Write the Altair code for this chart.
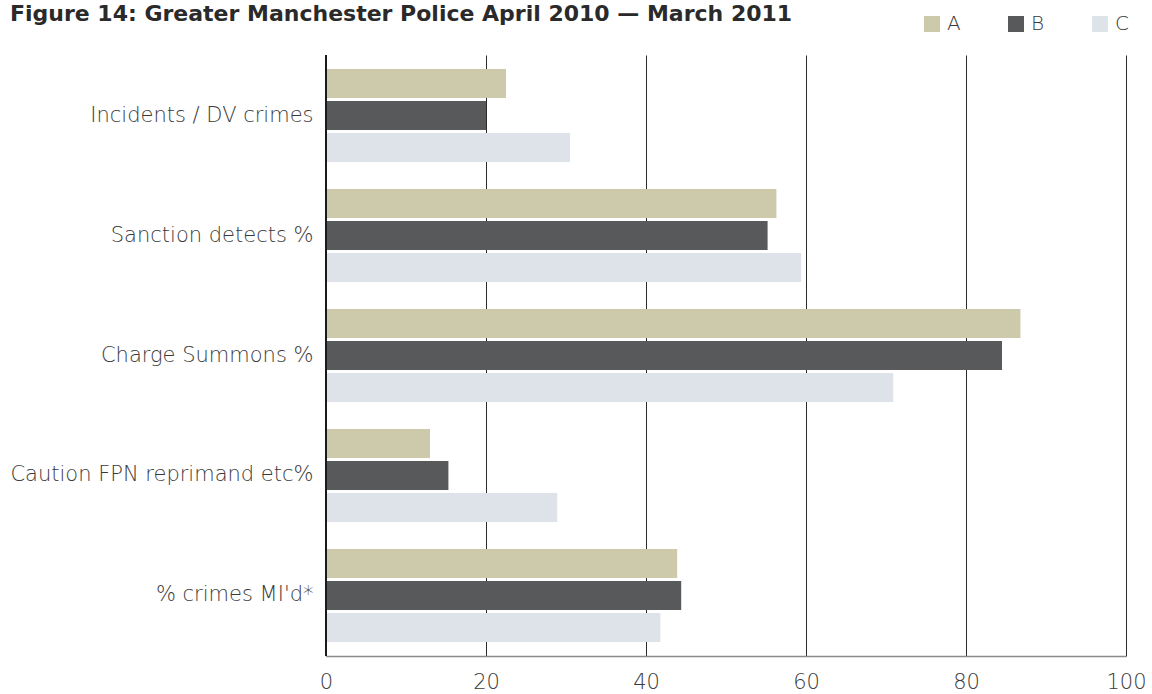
import altair as alt
import pandas as pd

categories = ["Incidents / DV crimes", "Sanction detects %", "Charge Summons %",
              "Caution FPN reprimand etc%", "% crimes MI'd*"]
series = ["A", "B", "C"]
values_a = [22.5, 56.3, 86.8, 13.0, 43.9]
values_b = [20.0, 55.2, 84.5, 15.3, 44.4]
values_c = [30.5, 59.4, 70.9, 28.9, 41.8]
colors = ["#CDC9AB", "#58595B", "#DEE2E9"]
x_ticks = [0, 20, 40, 60, 80, 100]

rows = []
for s, vals in zip(series, [values_a, values_b, values_c]):
    for c, v in zip(categories, vals):
        rows.append({"category": c, "series": s, "value": v})
df = pd.DataFrame(rows)

FONT = "DejaVu Sans"

bars = alt.Chart(df).mark_bar().encode(
    y=alt.Y("category:N", sort=categories, title=None,
            scale=alt.Scale(paddingInner=0.225, paddingOuter=0.1167),
            axis=alt.Axis(domain=False, ticks=False, labelPadding=13,
                          labelFontSize=21, labelColor="#3a3a3a",
                          labelFont=FONT, labelFontWeight=200, labelLimit=400)),
    yOffset=alt.YOffset("series:N", sort=series,
                        scale=alt.Scale(paddingInner=0.094, paddingOuter=0)),
    x=alt.X("value:Q", title=None,
            scale=alt.Scale(domain=[0, 100], nice=False),
            axis=alt.Axis(values=x_ticks, grid=True, gridColor="#2a2a2a",
                          gridWidth=1, ticks=False, domain=True,
                          domainColor="#8a8a8a", domainWidth=1.5,
                          labelFontSize=21, labelColor="#3a3a3a",
                          labelFont=FONT, labelFontWeight=200,
                          labelFlush=False, labelPadding=15)),
    color=alt.Color("series:N", sort=series,
                    scale=alt.Scale(domain=series, range=colors),
                    legend=alt.Legend(orient="none", direction="horizontal",
                                      legendX=596, legendY=-41, title=None,
                                      symbolType="square", symbolSize=256,
                                      symbolStrokeWidth=0, labelFontSize=20,
                                      labelFont=FONT, labelFontWeight=200,
                                      labelColor="#3a3a3a", labelOffset=5,
                                      columnPadding=45)),
)

zero = alt.Chart(pd.DataFrame({"x": [0]})).mark_rule(color="#1a1a1a", strokeWidth=2).encode(
    x=alt.X("x:Q")
)

chart = alt.layer(bars, zero).properties(
    width=800, height=601,
    autosize=alt.AutoSizeParams(type="none"),
    padding={"left": 326, "top": 55, "right": 26, "bottom": 38},
    title=alt.Title("Figure 14: Greater Manchester Police April 2010 \u2014 March 2011",
                    anchor="start", frame="bounds", fontSize=22, fontWeight="bold",
                    font=FONT, color="#2a2a2a", offset=0, dy=12),
).configure_view(stroke=None)

chart.save("out.html", embed_options={"renderer": "svg", "actions": False})
